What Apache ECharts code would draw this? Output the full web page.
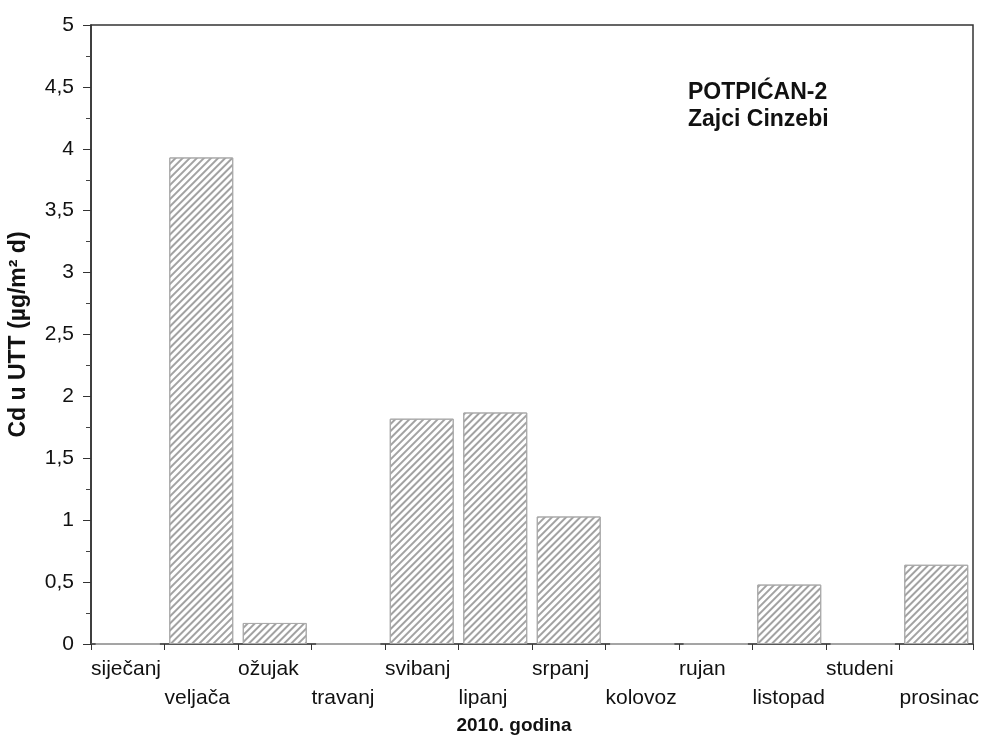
<!DOCTYPE html>
<html><head><meta charset="utf-8">
<script src="https://cdn.jsdelivr.net/npm/echarts@6/dist/echarts.min.js"></script>
<style>html,body{margin:0;padding:0;background:#fff}#c{width:983px;height:735px}</style>
</head><body><div id="c"></div>
<script>
const months = ['siječanj','veljača','ožujak','travanj','svibanj','lipanj','srpanj','kolovoz','rujan','listopad','studeni','prosinac'];
const values = [0, 3.93, 0.17, 0, 1.82, 1.87, 1.03, 0, 0, 0.48, 0, 0.64];
const yTicks = [0, 0.5, 1, 1.5, 2, 2.5, 3, 3.5, 4, 4.5, 5];
const titleLines = ['POTPIĆAN-2', 'Zajci Cinzebi'];
const xName = '2010. godina';
const yName = 'Cd u UTT (µg/m² d)';

const FONT = 'Liberation Sans, Arial, sans-serif';
const chart = echarts.init(document.getElementById('c'), null, {renderer: 'canvas'});
chart.setOption({
  animation: false,
  backgroundColor: '#fff',
  title: {
    text: titleLines.join('\n'), left: 683, top: 74,
    textStyle: {fontFamily: FONT, fontSize: 23, fontWeight: 'bold', color: '#111', lineHeight: 27}
  },
  grid: {left: 91, right: 10, top: 25, bottom: 91, containLabel: false, outerBoundsMode: 'none',
    show: true, borderColor: '#333', borderWidth: 1.5},
  xAxis: [{
    type: 'category', data: months, position: 'bottom',
    axisLine: {lineStyle: {color: '#555', width: 1.5}},
    axisTick: {show: true, length: 6, lineStyle: {color: '#333'}},
    axisLabel: {show: false},
    name: xName, nameLocation: 'middle', nameGap: 72,
    nameTextStyle: {fontFamily: FONT, fontSize: 19, fontWeight: 'bold', color: '#111', padding: [0, 36, 0, 0]}
  }, {
    type: 'category', data: months.concat(['']), position: 'bottom', boundaryGap: false,
    axisLine: {show: false}, axisTick: {show: false},
    axisLabel: {
      interval: 0, align: 'left', margin: 11, lineHeight: 29,
      fontFamily: FONT, fontSize: 21, color: '#111',
      formatter: (v, i) => (i % 2 ? '\n' + v : v)
    }
  }],
  yAxis: {
    type: 'value', min: 0, max: 5, interval: 0.5,
    axisLine: {show: true, lineStyle: {color: '#333', width: 1.5}},
    axisTick: {show: true, length: 8, lineStyle: {color: '#333'}},
    minorTick: {show: true, splitNumber: 2, length: 5, lineStyle: {color: '#444'}},
    splitLine: {show: false},
    axisLabel: {
      margin: 17, fontFamily: FONT, fontSize: 21, color: '#111',
      formatter: v => (yTicks.includes(v) ? String(v).replace('.', ',') : '')
    },
    name: yName, nameLocation: 'middle', nameGap: 61, nameRotate: 90,
    nameTextStyle: {fontFamily: FONT, fontSize: 23, fontWeight: 'bold', color: '#111'}
  },
  series: [{
    type: 'bar', data: values, xAxisIndex: 0, barCategoryGap: '13%',
    itemStyle: {
      color: '#fff', borderColor: '#aaa', borderWidth: 1,
      decal: {symbol: 'rect', symbolSize: 1, dashArrayX: [1, 0], dashArrayY: [1.5, 2.8], rotation: -Math.PI / 4, color: '#a2a2a2'}
    }
  }]
});
</script></body></html>
